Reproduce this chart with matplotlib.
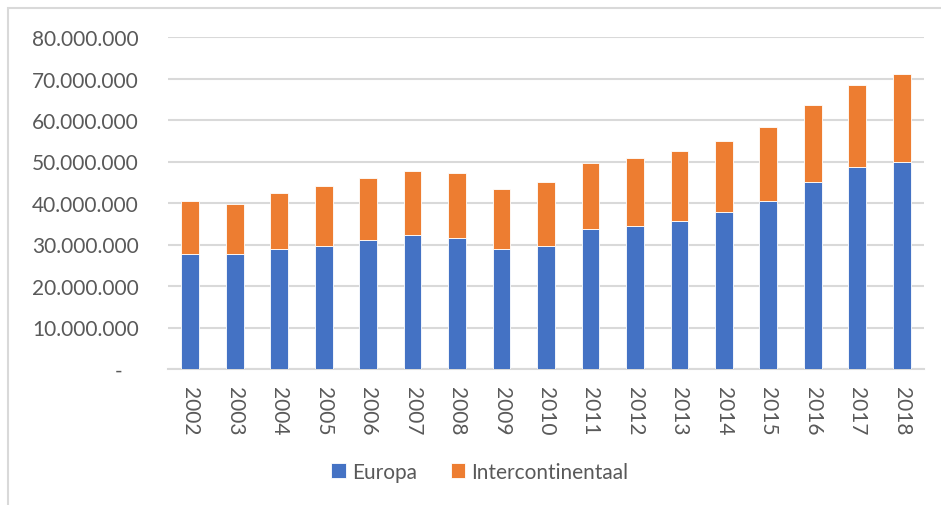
import matplotlib
matplotlib.use("Agg")
import matplotlib.pyplot as plt
from matplotlib.patches import Rectangle
from matplotlib.ticker import FuncFormatter, MultipleLocator

years = [str(y) for y in range(2002, 2019)]
europa = [27.8, 27.6, 28.8, 29.7, 31.2, 32.4, 31.6, 28.9, 29.7,
          33.8, 34.5, 35.6, 37.8, 40.6, 45.0, 48.6, 50.0]
totaal = [40.6, 39.8, 42.3, 44.1, 46.0, 47.7, 47.3, 43.4, 45.1,
          49.6, 50.8, 52.5, 54.9, 58.2, 63.5, 68.4, 71.1]
europa = [v * 1e6 for v in europa]
intercontinentaal = [t * 1e6 - e for t, e in zip(totaal, europa)]

plt.rcParams["font.family"] = ["Lato", "DejaVu Sans"]
text_color = "#595959"


def dutch_fmt(x, pos):
    if x == 0:
        return "-   "
    return f"{x:,.0f}".replace(",", ".")


fig = plt.figure(figsize=(9.41, 5.06), dpi=100)
ax = fig.add_axes([168 / 941, 1 - 370 / 506, 756 / 941, 332 / 506])

x = range(len(years))
ax.bar(x, europa, width=0.4, color="#4472C4", edgecolor="white", linewidth=0.6,
       label="Europa", zorder=3)
ax.bar(x, intercontinentaal, width=0.4, bottom=europa, color="#ED7D31",
       edgecolor="white", linewidth=0.6, label="Intercontinentaal", zorder=3)

ax.set_xlim(-0.5, len(years) - 0.5)
ax.set_ylim(0, 80e6)
ax.yaxis.set_major_locator(MultipleLocator(10e6))
ax.yaxis.set_major_formatter(FuncFormatter(dutch_fmt))
ax.set_xticks(list(x))
ax.set_xticklabels(years, rotation=-90)

ax.grid(axis="y", color="#D9D9D9", linewidth=1.5, zorder=0)
for side in ["top", "right", "left"]:
    ax.spines[side].set_visible(False)
ax.spines["bottom"].set_color("#D9D9D9")
ax.spines["bottom"].set_linewidth(1.5)
ax.tick_params(axis="y", length=0, pad=21, labelsize=15, labelcolor=text_color)
ax.tick_params(axis="x", length=0, pad=12, labelsize=15, labelcolor=text_color)

fig.legend(loc="center", bbox_to_anchor=(480 / 941, 1 - 473 / 506), ncol=2,
           frameon=False, fontsize=15, labelcolor=text_color,
           handlelength=0.7, handleheight=0.7, handletextpad=0.3, columnspacing=1.6)

# chart frame
fig.patches.append(Rectangle((8 / 941, -0.1), 1.0, 1 - 9 / 506 + 0.1,
                             transform=fig.transFigure, fill=False,
                             edgecolor="#D9D9D9", linewidth=1.5))

fig.savefig("out.png", dpi=100)
